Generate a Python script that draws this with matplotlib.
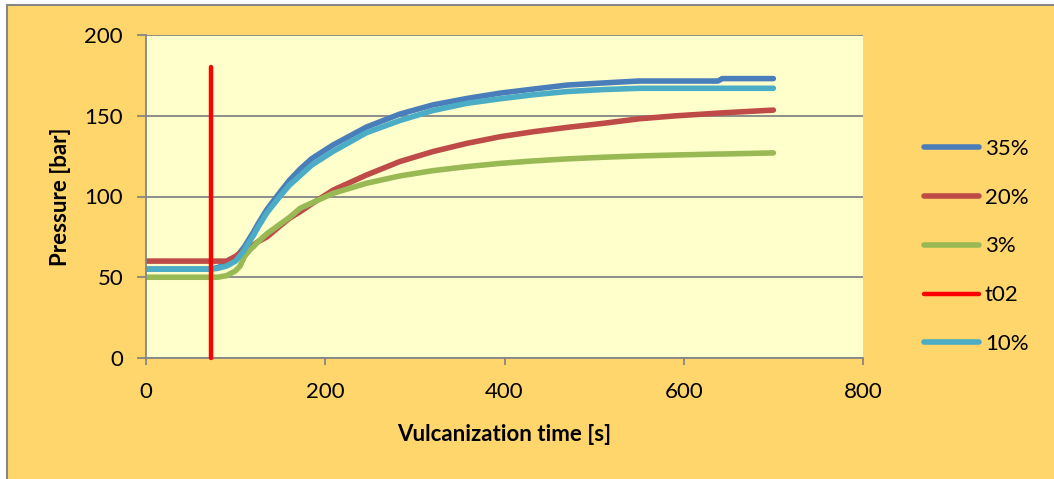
import matplotlib
matplotlib.use("Agg")
import matplotlib.pyplot as plt
from matplotlib.patches import Rectangle

plt.rcParams["font.family"] = ["Lato", "DejaVu Sans"]

# vulcanization time [s] and pressure readings [bar]
time_s = [0, 72, 80, 90, 100, 105, 110, 116, 120, 125, 135, 150, 160, 172, 185,
          209, 246, 283, 320, 358, 395, 432, 470, 510, 550, 590, 638, 643, 700]
p35 = [55, 55, 56, 58, 62, 65.5, 69, 74.5, 78, 83, 92, 103, 110, 117, 123.5,
       132, 143, 151, 156.7, 160.7, 164, 166.5, 169, 170.3, 171.5, 171.5, 171.5, 173, 173]
p20 = [60, 60, 60, 60, 63, 65, 67, 69, 70, 72, 75, 82, 86.5, 90.6, 95.5,
       104, 113.3, 121.6, 127.8, 132.9, 137, 140.1, 142.8, 145.3, 148.1, 149.9, 151.6, 151.8, 153.5]
p3 = [50, 50, 50, 51, 54, 57, 63, 67, 69, 72, 77, 83, 87, 92.7, 96,
      102, 108.2, 112.7, 116, 118.5, 120.5, 122, 123.3, 124.3, 125.1, 125.7, 126.3, 126.3, 127]
p10 = [55, 55, 55.5, 57, 60, 63.5, 67, 72.5, 76, 81, 90, 100.5, 107, 113, 119.5,
       128, 139.5, 147, 153.2, 157.7, 160.5, 163, 165, 166.2, 167, 167, 167, 167, 167]
t02_x = [72, 72]
t02_y = [0, 180]

xticks = [0, 200, 400, 600, 800]
yticks = [0, 50, 100, 150, 200]

GRAY = "#868686"
FS = 16

fig = plt.figure(figsize=(10.54, 4.79), dpi=100, facecolor="white")
# chart area with grey frame (cropped at right/bottom)
fig.patches.append(Rectangle((7 / 1054, -0.2), 1.2, 1 - 5 / 479 + 0.2,
                             transform=fig.transFigure, facecolor="#FFD66B",
                             edgecolor=GRAY, lw=1.5, zorder=-1))

ax = fig.add_axes([146 / 1054, 1 - 358 / 479, 717 / 1054, 323 / 479])
ax.set_facecolor("#FFFFCC")

lw = 4
ax.plot(time_s, p35, color="#4A7EBB", lw=lw, solid_capstyle="round", label="35%")
ax.plot(time_s, p20, color="#BE4B48", lw=lw, solid_capstyle="round", label="20%")
ax.plot(time_s, p3, color="#98B954", lw=lw, solid_capstyle="round", label="3%")
ax.plot(t02_x, t02_y, color="#FF0000", lw=3.2, solid_capstyle="round", label="t02",
        clip_on=False, zorder=3)
ax.plot(time_s, p10, color="#4BACC6", lw=lw, solid_capstyle="round", label="10%")

ax.set_xlim(0, 800)
ax.set_ylim(0, 200)
ax.set_xticks(xticks)
ax.set_yticks(yticks)
ax.grid(axis="y", color=GRAY, lw=1.3)
ax.set_axisbelow(True)
for s in ["top", "right"]:
    ax.spines[s].set_visible(False)
for s in ["left", "bottom"]:
    ax.spines[s].set_color(GRAY)
    ax.spines[s].set_linewidth(1.3)
ax.tick_params(axis="x", length=5, width=1.3, color=GRAY, pad=12, labelsize=FS)
ax.tick_params(axis="y", length=6.5, width=1.3, color=GRAY, pad=10, labelsize=FS)

ax.set_xlabel("Vulcanization time [s]", fontsize=FS, fontweight="bold", labelpad=16)
ax.set_ylabel("Pressure [bar]", fontsize=FS, fontweight="bold", labelpad=10)

fig.legend(loc="upper left", bbox_to_anchor=(0.8765, 0.7104), frameon=False,
           fontsize=FS, handlelength=2.5, handletextpad=0.25, labelspacing=1.3,
           borderpad=0, borderaxespad=0)

fig.savefig("out.png", dpi=100, facecolor=fig.get_facecolor())
